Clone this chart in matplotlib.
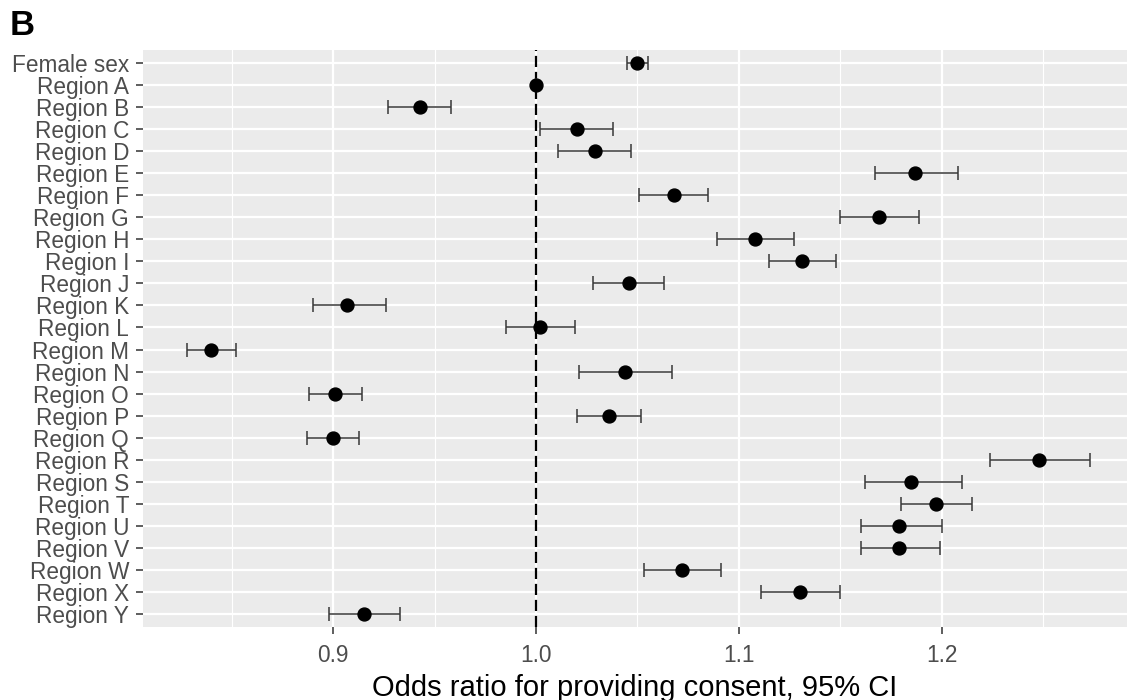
#!/usr/bin/env python3
import matplotlib as mpl
mpl.use('Agg')
import matplotlib.pyplot as plt
import numpy as np

mpl.rcParams['font.family'] = ['Liberation Sans', 'DejaVu Sans']

labels = ['Female sex'] + ['Region ' + c for c in 'ABCDEFGHIJKLMNOPQRSTUVWXY']

# odds ratio and 95% CI
odds = [1.050, 1.000, 0.943, 1.020, 1.029, 1.187, 1.068, 1.169, 1.108, 1.131,
        1.046, 0.907, 1.002, 0.840, 1.044, 0.901, 1.036, 0.900, 1.248, 1.185,
        1.197, 1.179, 1.179, 1.072, 1.130, 0.915]
ci_low = [1.045, 1.000, 0.927, 1.002, 1.011, 1.167, 1.051, 1.150, 1.089, 1.115,
          1.028, 0.890, 0.985, 0.828, 1.021, 0.888, 1.020, 0.887, 1.224, 1.162,
          1.180, 1.160, 1.160, 1.053, 1.111, 0.898]
ci_high = [1.055, 1.000, 0.958, 1.038, 1.047, 1.208, 1.085, 1.189, 1.127, 1.148,
           1.063, 0.926, 1.019, 0.852, 1.067, 0.914, 1.052, 0.913, 1.273, 1.210,
           1.215, 1.200, 1.199, 1.091, 1.150, 0.933]

odds = np.array(odds)
ci_low = np.array(ci_low)
ci_high = np.array(ci_high)
pos = np.arange(len(labels))

fig = plt.figure(figsize=(11.27, 7.0), dpi=100)
ax = fig.add_axes([143 / 1127, 1 - 627 / 700, 1 - 143 / 1127, (627 - 50) / 700])

ax.set_facecolor('#EBEBEB')
for s in ax.spines.values():
    s.set_visible(False)

# grid
ax.set_xticks([0.9, 1.0, 1.1, 1.2])
ax.set_xticks([0.85, 0.95, 1.05, 1.15, 1.25], minor=True)
ax.grid(True, which='major', axis='both', color='white', linewidth=1.6)
ax.grid(True, which='minor', axis='x', color='white', linewidth=0.8)
ax.set_axisbelow(True)

ax.axvline(1.0, color='black', linewidth=1.6, linestyle=(0, (5, 2.2)), zorder=2)

ax.errorbar(
    odds, pos,
    xerr=[odds - ci_low, ci_high - odds],
    fmt='none',
    ecolor='#383838',
    elinewidth=1.1,
    capsize=5,
    capthick=1.1,
    zorder=3,
)
ax.plot(odds, pos, 'o', color='black', markersize=9.3, zorder=4)

ax.set_yticks(pos)
ax.set_yticklabels(labels)
ax.set_ylim(len(labels) - 1 + 0.6, -0.6)
ax.set_xlim(0.8063, 1.2913)

ax.tick_params(axis='both', which='major', labelsize=16.3, labelcolor='#4D4D4D',
               color='#333333', length=5, width=1.1)
ax.tick_params(axis='y', which='major', pad=5)
ax.tick_params(axis='x', which='major', pad=7)
ax.tick_params(axis='both', which='minor', length=0)

ax.set_xlabel('Odds ratio for providing consent, 95% CI', fontsize=21,
              color='black', labelpad=5)

fig.text(10 / 1127, 1 - 9 / 700, 'B', fontsize=25, fontweight='bold',
         ha='left', va='top')

fig.savefig('out.png', dpi=100)
